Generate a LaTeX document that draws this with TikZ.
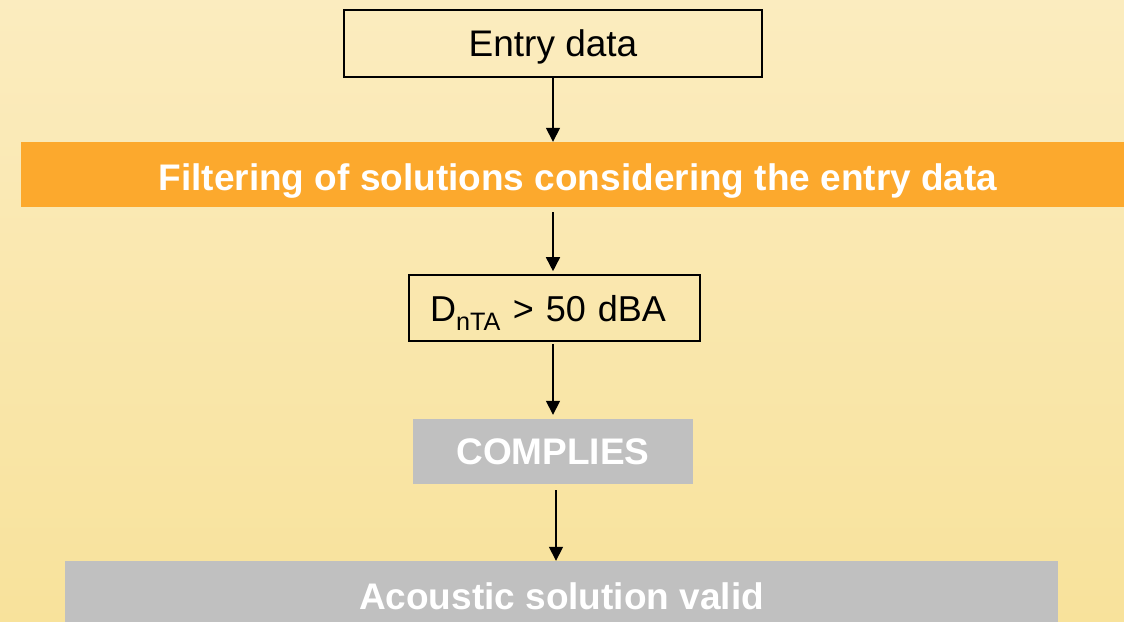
\documentclass[tikz,border=0pt]{standalone}
\usepackage{fontspec}
\setmainfont{Liberation Sans}
\usetikzlibrary{arrows.meta}
\definecolor{bgtop}{RGB}{251,236,191}
\definecolor{bgbot}{RGB}{248,226,155}
\definecolor{orangebar}{RGB}{252,169,45}
\definecolor{grayboxc}{RGB}{192,192,192}
\tikzset{
  capcenter/.style={text height=26.5pt, text depth=0pt},
  outlinebox/.style={draw=black, line width=1.6pt, inner sep=0pt, font=\fontsize{37}{44}\selectfont, capcenter},
  barbox/.style={inner sep=0pt, text=white, font=\bfseries\fontsize{37}{44}\selectfont, capcenter},
  arr/.style={line width=1.6pt, -{Triangle[width=14pt,length=14pt]}}
}
\begin{document}
\begin{tikzpicture}[x=1pt,y=-1pt]
\useasboundingbox (0,0) rectangle (1124,621);
\clip (0,0) rectangle (1124,621);
\shade[top color=bgtop, bottom color=bgbot] (0,0) rectangle (1124,621);

\node[outlinebox, minimum width=418pt, minimum height=67pt] (entry) at (553,43.5) {Entry data};
\node[barbox, fill=orangebar, minimum width=1114pt, minimum height=65pt, text height=31.5pt] (filter) at (578,174.5) {Filtering of solutions considering the entry data};
\node[outlinebox, minimum width=291pt, minimum height=66pt, text width=249pt, align=left, inner xsep=21pt, font=\fontsize{36}{43}\selectfont] (dnta) at (554.5,308) {D\textsubscript{nTA} > 50 dBA};
\node[barbox, fill=grayboxc, minimum width=280pt, minimum height=65pt] (complies) at (553,451.5) {COMPLIES};
\node[barbox, fill=grayboxc, minimum width=993pt, minimum height=70pt] (acoustic) at (561.5,596) {Acoustic solution valid};

\draw[arr] (entry.south) -- (entry.south |- filter.north);
\draw[arr] ([yshift=-5pt]entry.south |- filter.south) -- ([yshift=3pt]entry.south |- dnta.north);
\draw[arr] ([yshift=-2pt]entry.south |- dnta.south) -- ([yshift=4pt]entry.south |- complies.north);
\draw[arr] ([xshift=3pt,yshift=-6pt]complies.south) -- ([xshift=3pt]complies.south |- acoustic.north);
\end{tikzpicture}
\end{document}
